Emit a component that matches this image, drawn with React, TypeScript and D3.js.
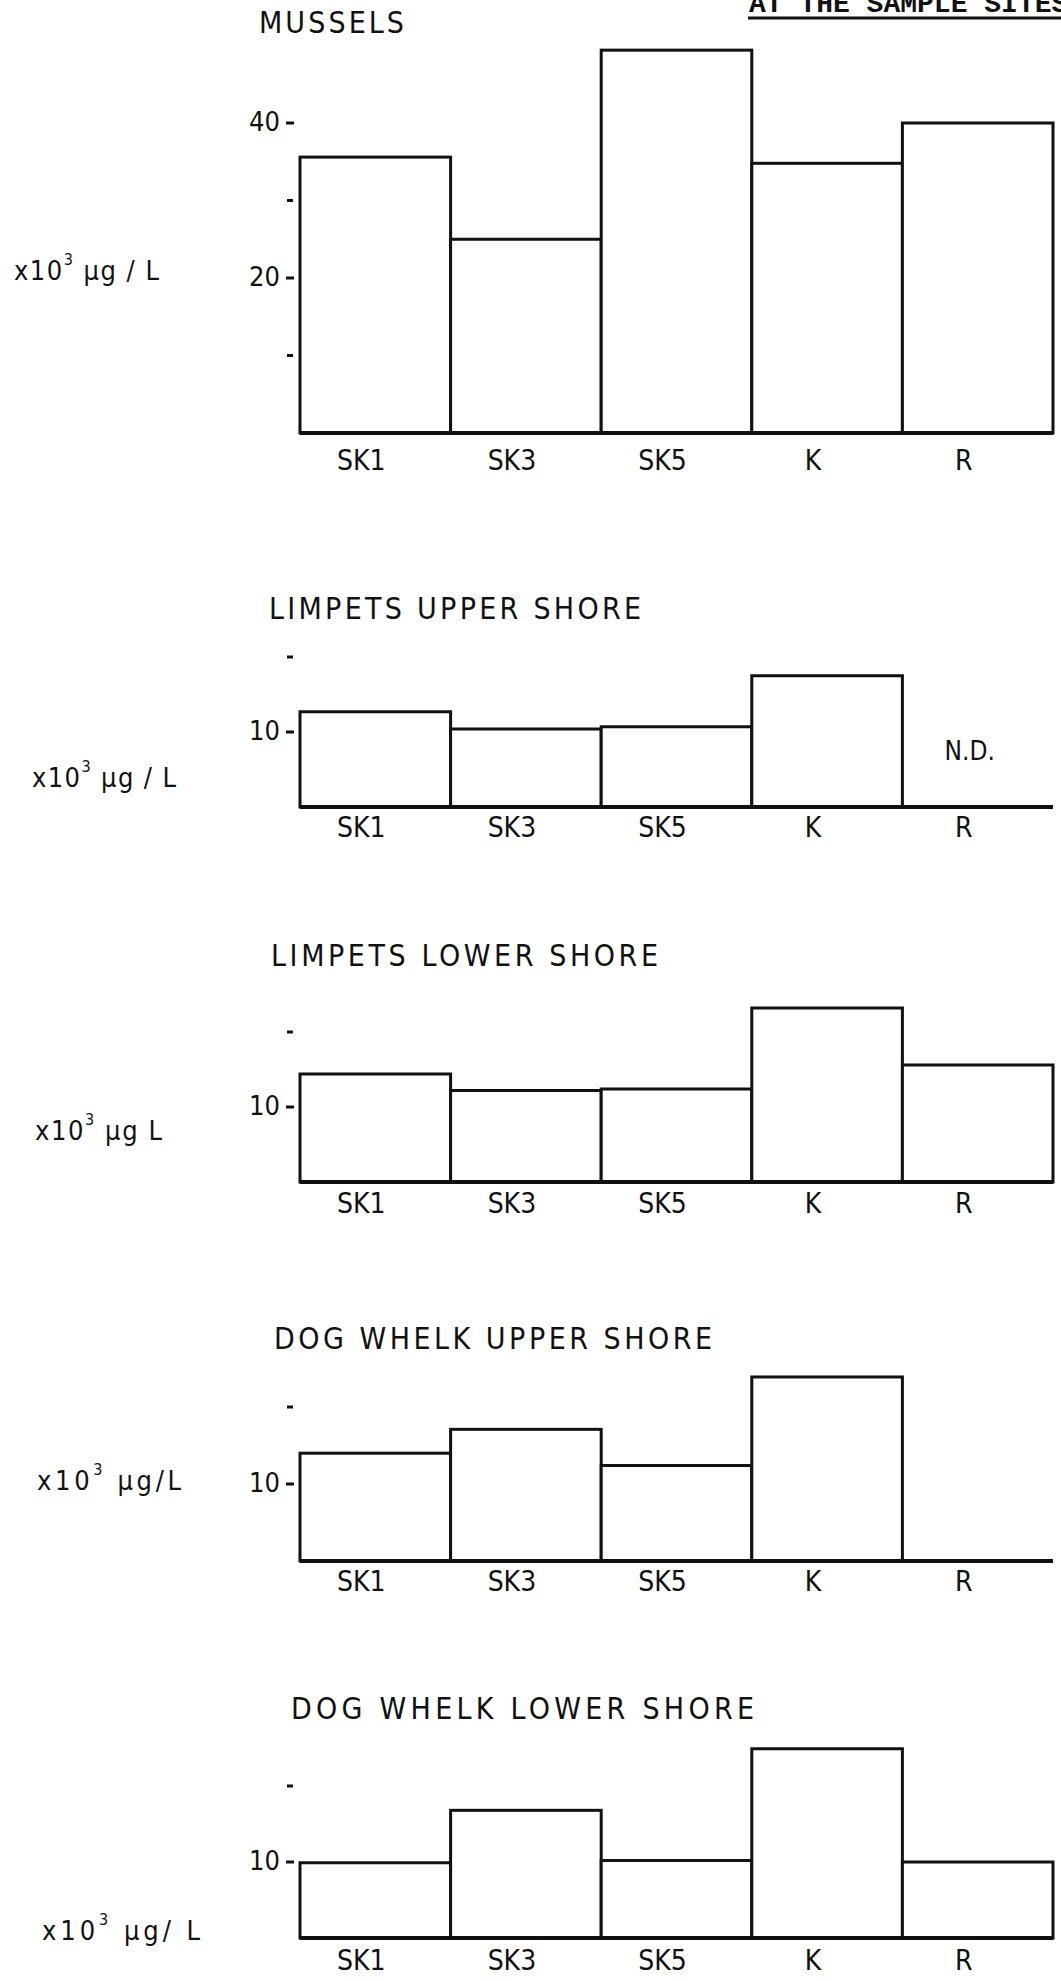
import React from "react";
import * as d3 from "d3";

// sites along the shore
const sites = ["SK1", "SK3", "SK5", "K", "R"];

// concentrations, x10^3 ug/L
const mussels = [35.6, 25, 49.4, 34.8, 40];
const limpetsUpper = [12.7, 10.4, 10.7, 17.5, 0];
const limpetsLower = [14.4, 12.2, 12.4, 23.2, 15.6];
const whelkUpper = [14.0, 17.1, 12.4, 23.9, 0];
const whelkLower = [9.9, 16.8, 10.2, 24.9, 10.0];

const musselTicks = [20, 40];
const musselMinor = [10, 30];
const shoreTicks = [10];
const shoreMinor = [20];

const W = 1061;
const H = 1981;
const font = "'DejaVu Sans Condensed', 'DejaVu Sans', 'Liberation Sans', sans-serif";

type PanelProps = {
  title: string;
  titleX: number;
  titleY: number;
  titleW: number;
  values: number[];
  ticks: number[];
  minor: number[];
  base: number; // baseline y
  ppu: number; // pixels per unit
  unit: string;
  unitX: number;
  unitY: number;
  unitW: number;
  labelDy: number;
  missing?: string[];
};

const x = d3.scaleBand<string>().domain(sites).range([300, 1053]).paddingInner(0).paddingOuter(0);

function Panel(p: PanelProps) {
  const y = d3.scaleLinear().domain([0, 10]).range([p.base, p.base - 10 * p.ppu]);
  return (
    <g>
      <text x={p.titleX} y={p.titleY} dominantBaseline="middle" fontSize={30}
        textLength={p.titleW} lengthAdjust="spacing" fill="#111">{p.title}</text>

      <text x={p.unitX} y={p.unitY} dominantBaseline="middle" fontSize={27}
        textLength={p.unitW} lengthAdjust="spacing" fill="#111">
        x10<tspan dy={-12} fontSize={16}>3</tspan><tspan dy={12}>{p.unit}</tspan>
      </text>

      {p.ticks.map((t) => (
        <g key={"t" + t}>
          <text x={280} y={y(t)} textAnchor="end" dominantBaseline="middle" fontSize={27} fill="#111">{t}</text>
          <line x1={286} x2={294} y1={y(t)} y2={y(t)} stroke="#111" strokeWidth={3} />
        </g>
      ))}
      {p.minor.map((t) => (
        <line key={"m" + t} x1={287} x2={293} y1={y(t)} y2={y(t)} stroke="#111" strokeWidth={3} />
      ))}

      {p.values.map((v, i) => (
        <rect key={sites[i]} x={x(sites[i])} y={y(v)} width={x.bandwidth()} height={p.base - y(v)}
          fill="#fff" stroke="#111" strokeWidth={3} />
      ))}
      <line x1={x.range()[0]} x2={x.range()[1]} y1={p.base} y2={p.base} stroke="#111" strokeWidth={4} />

      {sites.map((s) => (
        <text key={"l" + s} x={(x(s) as number) + x.bandwidth() / 2 - 14} y={p.base + p.labelDy}
          textAnchor="middle" dominantBaseline="middle" fontSize={28} fill="#111">{s}</text>
      ))}

      {(p.missing || []).map((s) => (
        <text key={"nd" + s} x={(x(s) as number) + x.bandwidth() / 2 - 8} y={y(0) - 55}
          textAnchor="middle" dominantBaseline="middle" fontSize={26} fill="#111">N.D.</text>
      ))}
    </g>
  );
}

export default function App() {
  return (
    <div style={{ position: "absolute", left: 0, top: 0, width: W, height: H, background: "#fff" }}>
      <svg width={W} height={H} style={{ display: "block", fontFamily: font }}>
        <rect width={W} height={H} fill="#fff" />

        <text x={749} y={12} fontFamily="'Liberation Mono', 'DejaVu Sans Mono', monospace" fontWeight="bold"
          fontSize={28} fill="#111">AT THE SAMPLE SITES</text>
        <line x1={748} x2={1061} y1={18} y2={18} stroke="#111" strokeWidth={3} />

        <Panel title="MUSSELS" titleX={259} titleY={24} titleW={145} values={mussels}
          ticks={musselTicks} minor={musselMinor} base={433} ppu={7.75}
          unit=" µg / L" unitX={14} unitY={272} unitW={145} labelDy={29} />

        <Panel title="LIMPETS  UPPER  SHORE" titleX={269} titleY={610} titleW={372} values={limpetsUpper}
          ticks={shoreTicks} minor={shoreMinor} base={807} ppu={7.5}
          unit=" µg / L" unitX={32} unitY={779} unitW={144} labelDy={22} missing={["R"]} />

        <Panel title="LIMPETS  LOWER  SHORE" titleX={271} titleY={957} titleW={387} values={limpetsLower}
          ticks={shoreTicks} minor={shoreMinor} base={1182} ppu={7.5}
          unit=" µg  L" unitX={35} unitY={1132} unitW={127} labelDy={23} />

        <Panel title="DOG  WHELK  UPPER  SHORE" titleX={274} titleY={1340} titleW={438} values={whelkUpper}
          ticks={shoreTicks} minor={shoreMinor} base={1561} ppu={7.7}
          unit=" µg/L" unitX={37} unitY={1482} unitW={144} labelDy={22} />

        <Panel title="DOG  WHELK  LOWER  SHORE" titleX={291} titleY={1710} titleW={463} values={whelkLower}
          ticks={shoreTicks} minor={shoreMinor} base={1938} ppu={7.6}
          unit=" µg/ L" unitX={42} unitY={1932} unitW={158} labelDy={24} />
      </svg>
    </div>
  );
}
